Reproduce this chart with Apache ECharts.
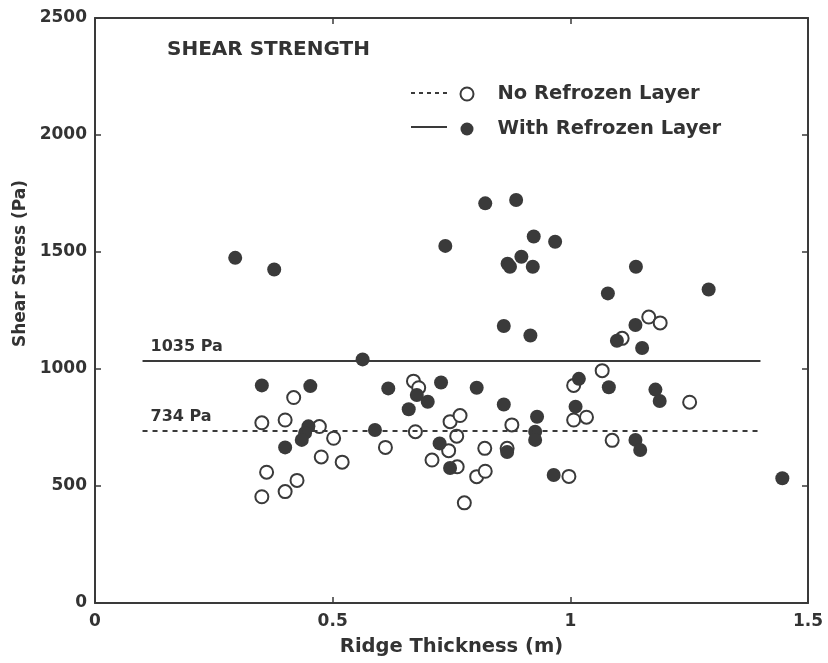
<!DOCTYPE html>
<html>
<head>
<meta charset="utf-8">
<script src="https://cdn.jsdelivr.net/npm/echarts@6/dist/echarts.min.js"></script>
<style>
html,body{margin:0;padding:0;background:#fff;}
#chart{width:828px;height:663px;}
</style>
</head>
<body>
<div id="chart"></div>
<script>
// Ridge thickness (m) and shear stress (Pa)
var noRefrozen = [
  [0.351,454],[0.361,559],[0.400,476],[0.425,524],[0.351,770],[0.400,782],[0.418,878],
  [0.472,754],[0.502,704],[0.476,624],[0.520,602],[0.611,665],[0.670,948],[0.681,920],
  [0.674,732],[0.709,611],[0.744,651],[0.747,775],[0.768,801],[0.761,713],[0.762,582],
  [0.777,428],[0.803,540],[0.821,563],[0.820,661],[0.867,661],[0.877,761],[0.997,541],
  [1.007,930],[1.067,993],[1.007,782],[1.034,794],[1.088,695],[1.109,1131],[1.165,1222],
  [1.189,1197],[1.251,858]
];
var withRefrozen = [
  [0.295,1475],[0.377,1425],[0.351,930],[0.453,927],[0.400,665],[0.449,755],[0.442,727],
  [0.435,697],[0.563,1041],[0.617,917],[0.589,739],[0.660,828],[0.677,889],[0.700,860],
  [0.728,942],[0.725,682],[0.747,577],[0.737,1526],[0.803,920],[0.821,1708],[0.886,1722],
  [0.923,1566],[0.968,1544],[0.897,1480],[0.868,1450],[0.873,1437],[0.921,1437],[0.860,1184],
  [0.916,1143],[0.860,848],[0.930,796],[0.926,732],[0.926,697],[0.867,645],[0.965,547],
  [1.018,958],[1.011,839],[1.081,922],[1.079,1323],[1.138,1437],[1.137,1188],[1.098,1121],
  [1.151,1090],[1.291,1340],[1.179,912],[1.188,863],[1.137,697],[1.147,654],[1.446,533]
];
var meanNo = 734;
var meanWith = 1035;
var lineStart = 0.1;
var lineEnd = 1.4;
var seriesNames = ['No Refrozen Layer', 'With Refrozen Layer'];
var titleText = 'SHEAR STRENGTH';
var xName = 'Ridge Thickness (m)';
var yName = 'Shear Stress (Pa)';

var ink = '#3a3a3a';
var txt = '#333';
var font = 'DejaVu Sans, Verdana, sans-serif';
var chart = echarts.init(document.getElementById('chart'), null, {renderer:'canvas'});

function tickAxis(pos, isX, show){
  return {
    type:'value', position:pos, min:0, max: isX?1.5:2500, interval: isX?0.5:500,
    splitLine:{show:false},
    axisLine:{show:true, onZero:false, lineStyle:{color:ink, width:2}},
    axisTick:{show:true, inside:true, length:6, lineStyle:{color:ink, width:1.5}},
    axisLabel:{show:show, color:txt, fontFamily:font, fontWeight:'bold', fontSize:17, margin: isX?10:8,
               formatter:function(v){return String(v);}}
  };
}
var xA = tickAxis('bottom', true, true);
xA.name = xName; xA.nameLocation='middle'; xA.nameGap=34;
xA.nameTextStyle = {color:txt, fontFamily:font, fontWeight:'bold', fontSize:19.5};
var xB = tickAxis('top', true, false);
var yA = tickAxis('left', false, true);
yA.name = yName; yA.nameLocation='middle'; yA.nameGap=62; yA.nameRotate=90;
yA.nameTextStyle = {color:txt, fontFamily:font, fontWeight:'bold', fontSize:17, padding:[0,0,0,94]};
var yB = tickAxis('right', false, false);

var option = {
  animation:false,
  backgroundColor:'#fff',
  grid:{left:95, right:20, top:18, bottom:60, show:false},
  title:{text:titleText, left:167, top:40, padding:0, textStyle:{color:txt, fontFamily:font, fontWeight:'bold', fontSize:20}},
  legend:{
    orient:'vertical', left:459.5, top:84, padding:0, itemWidth:13, itemHeight:13, itemGap:15,
    icon:'circle',
    data:seriesNames,
    textStyle:{color:txt, fontFamily:font, fontWeight:'bold', fontSize:19.5, padding:[0,0,0,19]}
  },
  graphic:[
    {type:'line', shape:{x1:411,y1:93,x2:449,y2:93}, style:{stroke:ink, lineWidth:2, lineDash:[4,4]}},
    {type:'line', shape:{x1:411,y1:127,x2:447,y2:127}, style:{stroke:ink, lineWidth:2}}
  ],
  xAxis:[xA, xB],
  yAxis:[yA, yB],
  series:[
    {
      name:seriesNames[0], type:'scatter', data:noRefrozen, symbol:'circle', symbolSize:13,
      itemStyle:{color:'#fff', borderColor:ink, borderWidth:2, opacity:1},
      markLine:{
        silent:true, symbol:'none',
        lineStyle:{color:ink, width:2, type:[5,5]},
        label:{show:true, position:'insideStartTop', formatter:meanNo+' Pa', distance:[8,6],
               color:txt, fontFamily:font, fontWeight:'bold', fontSize:16},
        data:[[{coord:[lineStart, meanNo]},{coord:[lineEnd, meanNo]}]]
      }
    },
    {
      name:seriesNames[1], type:'scatter', data:withRefrozen, symbol:'circle', symbolSize:14,
      itemStyle:{color:ink, borderColor:ink, borderWidth:0, opacity:1},
      markLine:{
        silent:true, symbol:'none',
        lineStyle:{color:ink, width:2, type:'solid'},
        label:{show:true, position:'insideStartTop', formatter:meanWith+' Pa', distance:[8,6],
               color:txt, fontFamily:font, fontWeight:'bold', fontSize:16},
        data:[[{coord:[lineStart, meanWith]},{coord:[lineEnd, meanWith]}]]
      }
    }
  ]
};
chart.setOption(option);
</script>
</body>
</html>
